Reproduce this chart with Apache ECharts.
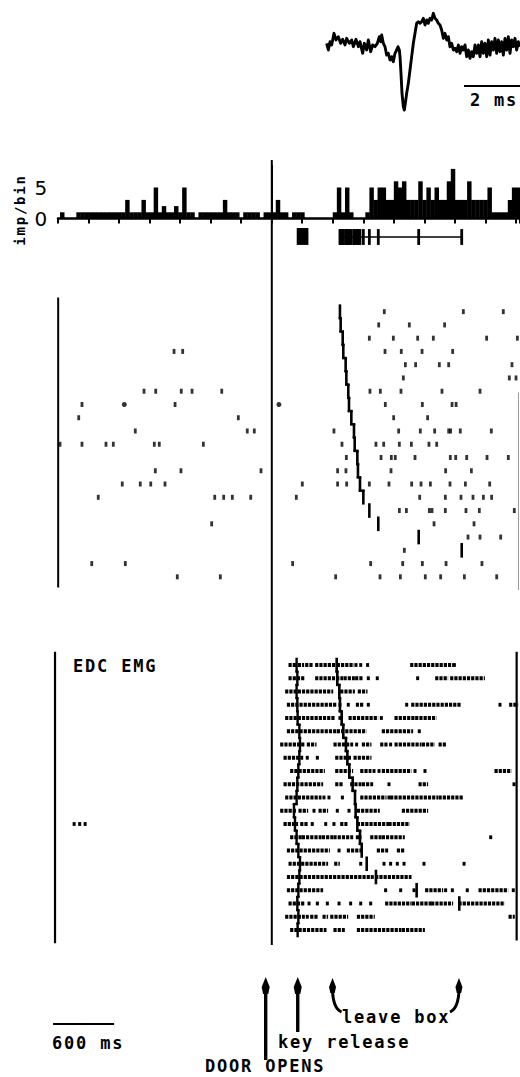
<!DOCTYPE html>
<html><head><meta charset="utf-8">
<script src="https://cdn.jsdelivr.net/npm/echarts@6/dist/echarts.min.js"></script>
<style>
html,body{margin:0;padding:0;background:#fff;}
#chart{width:520px;height:1077px;}
#chart text{letter-spacing:1.8px;}
</style></head>
<body><div id="chart"></div>
<script>
// ---------------- DATA ----------------
// averaged spike waveform (time in ms, amplitude in arbitrary units)
const waveTimeMs = [0.20,0.25,0.30,0.35,0.42,0.48,0.55,0.62,0.68,0.75,0.80,0.88,0.95,1.00,1.08,1.15,1.20,1.28,1.33,1.40,1.45,1.52,1.58,1.65,1.72,1.78,1.82,1.85,1.90,1.95,2.00,2.05,2.10,2.15,2.20,2.25,2.30,2.34,2.38,2.40,2.43,2.46,2.50,2.53,2.56,2.60,2.65,2.70,2.75,2.80,2.85,2.90,2.95,3.00,3.05,3.10,3.15,3.20,3.25,3.30,3.35,3.40,3.45,3.50,3.55,3.60,3.65,3.70,3.75,3.80,3.85,3.90,3.95,4.00,4.05,4.10,4.15,4.20,4.25,4.30,4.35,4.40,4.45,4.50,4.55,4.60,4.65,4.70,4.75,4.80,4.85,4.90,4.95,5.00,5.05,5.10,5.15,5.20,5.25,5.30,5.35,5.40,5.45,5.50,5.55,5.60,5.65,5.70,5.75,5.80,5.85,5.90,5.95,6.00];
const waveAmp = [0.10,-0.10,0.15,0.05,0.40,0.20,0.30,0.10,0.22,0.05,0.25,0.10,0.20,0.00,0.22,0.00,0.15,-0.20,0.10,-0.10,0.20,-0.15,0.05,0.00,0.10,0.30,0.15,0.35,0.10,0.00,-0.25,-0.20,-0.40,-0.30,-0.45,-0.20,-0.10,0.00,-0.10,-0.30,-0.80,-1.40,-1.80,-1.90,-1.70,-1.40,-1.10,-0.70,-0.30,0.10,0.40,0.70,0.75,0.70,0.75,0.85,0.65,0.80,0.70,0.85,0.80,1.00,0.85,0.80,0.70,0.65,0.50,0.25,0.40,0.20,0.30,0.00,0.10,-0.10,-0.05,-0.15,0.05,-0.20,0.00,-0.10,0.05,-0.30,-0.10,-0.35,-0.15,-0.30,0.05,-0.20,0.05,-0.30,0.15,-0.20,0.10,-0.30,0.20,-0.25,0.15,-0.10,0.25,-0.20,0.20,-0.15,0.15,-0.25,0.25,-0.10,0.30,-0.20,0.20,0.00,0.25,-0.10,0.15,0.00];
const waveScaleBarMs = [4.32, 6.32];

// peri-event histogram (40 ms bins)
const histBinStartMs = -2080;
const histBinWidthMs = 40;
const histCounts = [
 1,0,0,0,1,1,1,1,1,1,
 1,1,1,1,1,1,3,1,1,1,
 3,1,1,5,1,2,1,1,2,1,
 5,1,1,0,1,1,1,1,1,1,
 3,1,1,1,0,1,1,1,1,0,
 1,1,1,3,1,1,0,1,1,1,
 0,0,0,0,0,0,0,1,5,1,
 5,1,0,0,0,1,5,3,5,5,
 3,3,6,5,6,3,3,3,6,3,
 5,3,5,3,3,6,8,3,3,3,
 6,3,3,3,3,5,1,1,1,1,
 3,5,5];
const histYTicks = [0, 5];
const histXTickMs = 300;

// behavioural event summary under the histogram
const keyReleaseRangeMs = [245, 360];

// unit raster: spike times (ms) per trial row (row 1 = top)
const unitSpikeRows = [
 [1106,1883,2276],
 [1051,1352,1699],
 [959,1195,1434,1588,2112,2414],
 [-961,-876,1113,1273,1477,1778],
 [1313,1414,1647,1739,2361],
 [1293,2335,2401],
 [-1256,-1141,-890,-784,-492,965,1067,1270,1673,2047],
 [-1866,-951,1116,1480,1772,1812],
 [-1898,-329,1198,1532],
 [-1342,-241,-172,611,1247,1460,1601,1739,1758,1853,2158],
 [-2082,-1866,-1630,-1558,-1155,-1106,-673,690,1024,1100,1254,1372,1545,1621],
 [733,1074,1175,1214,1408,1755,1808,1916,2116,2325],
 [-1145,-893,-106,647,729,1172,1709,1962],
 [-1470,-1293,-1190,-1050,300,647,736,959,1152,1375,1467,1559,1752,1903,2142],
 [-1706,-561,-473,-388,-207,241,1454,1706,1860,1978,2080,2161],
 [1254,1323,1549,1575,1706,1909,2040,2384],
 [-591,1595,1988],
 [1929,2047,2250],
 [1303],
 [-1770,-1440,205,972,1287,1480,1713,2066],
 [-929,-506,628,1064,1264,1509,1660,1893,2211]
];
const unitBigDotMs = [-1450, 70];
const unitBigDotRow = [8, 8];
const unitLeaveMs = [670,677,697,703,726,733,752,759,782,808,815,841,847,867,900,959,1047,1444,1867];
const unitWindowMs = [-2100, 2425];

// EDC EMG raster: activity runs [start,end] or single dots (ms) per row
const emgRows = [
 [[179,228],[271,303],[343,392],[441,621],[654,795],828,874,942,[1375,1768],1795],
 [[179,310],[441,687],[720,802],[834,884],949,1037,1434,[1621,1719],[1768,2080]],
 [[146,589],[687,802],[860,926]],
 [[163,621],670,[752,769],[841,884],949,1326,[1385,1850],2243,[2348,2407]],
 [[146,605],670,[769,1031],1077,[1221,1391],[1424,1604]],
 [[163,638],[654,916],[1096,1375],1450],
 [[97,310],[359,425],[621,785],834,[900,965],[1080,1129],1168,[1221,1457],[1490,1588],[1654,1703]],
 [[130,294],349,448,[638,769],[818,965]],
 [[195,507],[638,785],[884,965],1005,1054,[1096,1359],1408,1506,[2204,2342]],
 [[130,490],[638,687],[785,867],[900,982],1152,[1457,1522],2381],
 [[146,474],513,562,694,[884,1113],1152,[1178,1621],[1654,1867]],
 [[97,228],[277,343],415,[474,539],644,759,[851,1047],[1293,1522]],
 [-1943,-1889,-1835,[130,244],[294,343],398,530,611,[687,729],[851,1146],[1162,1342]],
 [[195,294],[310,474],[507,589],[621,785],[841,867],[982,1064],[1096,1293],2152],
 [[163,556],661,[752,867],[1047,1129],[1244,1293]],
 [[179,539],[628,654],874,1103,1168,1234,1300,1496,1890],
 [[163,965],988,[1031,1359]],
 [[163,490],1119,1267,1398,[1522,1670],1709,1775,1922,[2047,2309],[2374,2391]],
 [[179,310],366,448,546,661,775,874,972,[1129,1359],[1391,1555],[1581,1768],[1850,2276]],
 [[146,310],349,[392,441],[513,539],[589,736],[851,998],[2342,2374]],
 [[195,523],[621,703],[851,1260],[1293,1490]]
];
const emgKeyReleaseMs = [244,251,244,251,254,271,277,271,261,251,244,218,228,244,261,277,271,261,251,261,254];
const emgLeaveMs = [638,644,664,670,687,703,729,743,762,795,818,824,841,867,884,933,1024,1424,1843];
const emgWindowMs = [-2131, 2407];

// events / annotations
const doorOpenMs = 0;
const doorArrowMs = -60;
const keyArrowMs = 255;
const leaveArrowMs = [597, 1840];
const scaleBar600Ms = [-2150, -1550];

// ---------------- CHART ----------------
const BLACK = '#000';
const chart = echarts.init(document.getElementById('chart'), null, {renderer: 'svg'});
const XMIN = -2200, XMAX = 2440;

function hx(gi, min, max) { return {type:'value', gridIndex:gi, min:min, max:max, show:false, splitLine:{show:false}}; }
function hy(gi, min, max, inv) { return {type:'value', gridIndex:gi, min:min, max:max, inverse:!!inv, show:false, splitLine:{show:false}}; }
function g(left, top, width, height) { return {left:left, top:top, width:width, height:height, containLabel:false, outerBoundsMode:'none'}; }

function stairSeries(gi, times, lw, joinPx) {
  return {
    type:'custom', xAxisIndex:gi, yAxisIndex:gi, silent:true, clip:false, animation:false,
    data: times.map(function(t,i){ return [t, i+1]; }),
    encode:{x:0, y:1},
    renderItem: function(params, api) {
      const i = params.dataIndex, t = api.value(0), r = api.value(1);
      const p0 = api.coord([t, r-0.55]), p1 = api.coord([t, r+0.55]);
      const kids = [{type:'line', shape:{x1:p0[0],y1:p0[1],x2:p1[0],y2:p1[1]}, style:{stroke:BLACK, lineWidth:lw}}];
      if (i+1 < times.length) {
        const a = api.coord([t, r+0.5]), b = api.coord([times[i+1], r+0.5]);
        if (Math.abs(b[0]-a[0]) < joinPx) kids.push({type:'line', shape:{x1:a[0],y1:a[1],x2:b[0],y2:b[1]}, style:{stroke:BLACK, lineWidth:lw, lineCap:'square'}});
      }
      return {type:'group', children:kids};
    }
  };
}
function vline(gi, t, r0, r1, w, color) {
  return {type:'line', xAxisIndex:gi, yAxisIndex:gi, silent:true, animation:false, symbol:'none',
    data:[[t, r0],[t, r1]], lineStyle:{color:color||BLACK, width:w}};
}

const waveData = waveTimeMs.map(function(t,i){ return [t, waveAmp[i]]; });
const histData = histCounts.map(function(c,i){ return [histBinStartMs + i*histBinWidthMs, c]; });
const unitSpikes = [];
unitSpikeRows.forEach(function(row, i){ row.forEach(function(t){ unitSpikes.push([t, i+1]); }); });
const unitBig = unitBigDotMs.map(function(t,i){ return [t, unitBigDotRow[i]]; });
const emgSegs = [];
emgRows.forEach(function(row, i){ row.forEach(function(s){
  if (Array.isArray(s)) emgSegs.push([s[0], s[1], i+1]); else emgSegs.push([s, s, i+1]);
}); });

const option = {
  animation:false,
  backgroundColor:'#fff',
  grid:[
    g(320, 0, 200, 115),          // 0 waveform
    g(58, 165.8, 462, 52.7),      // 1 histogram
    g(48, 228, 472, 18),          // 2 event strip
    g(48, 298.4, 472, 291.7),     // 3 unit raster
    g(48, 651.75, 472, 291.5),    // 4 EMG raster
    g(48, 160, 472, 785),         // 5 door line overlay
    g(48, 950, 472, 127)          // 6 annotations
  ],
  xAxis:[
    hx(0, 0, 6),
    {type:'value', gridIndex:1, min:-2100, max:XMAX, interval:histXTickMs,
      axisLine:{show:true, onZero:false, lineStyle:{color:BLACK, width:2.5}},
      axisTick:{show:true, length:5, lineStyle:{color:BLACK, width:2}},
      axisLabel:{show:false}, splitLine:{show:false}},
    hx(2, XMIN, XMAX), hx(3, XMIN, XMAX), hx(4, XMIN, XMAX), hx(5, XMIN, XMAX), hx(6, XMIN, XMAX)
  ],
  yAxis:[
    hy(0, -2.05, 1.4),
    {type:'value', gridIndex:1, min:0, max:8.5, interval:5,
      axisLine:{show:true, lineStyle:{color:BLACK, width:2}},
      axisTick:{show:false},
      axisLabel:{show:true, customValues:histYTicks, margin:9, color:BLACK,
        fontFamily:'DejaVu Sans', fontSize:20, formatter:function(v){ return histYTicks.indexOf(v) >= 0 ? String(v) : ''; }},
      splitLine:{show:false}},
    hy(2, 0, 1), hy(3, 0, 22, true), hy(4, 0, 22, true), hy(5, 0, 1, true), hy(6, 950, 1077, true)
  ],
  series:[
    // waveform
    {type:'line', xAxisIndex:0, yAxisIndex:0, data:waveData, symbol:'none', silent:true,
      lineStyle:{color:BLACK, width:2.9, join:'round'}},
    {type:'line', xAxisIndex:0, yAxisIndex:0, data:[[waveScaleBarMs[0],-1.18],[waveScaleBarMs[1],-1.18]],
      symbol:'none', silent:true, clip:false, lineStyle:{color:BLACK, width:2}},
    // histogram
    {type:'custom', xAxisIndex:1, yAxisIndex:1, data:histData, encode:{x:0,y:1}, silent:true,
      renderItem:function(params, api){
        const t = api.value(0), c = api.value(1);
        if (!c) return null;
        const a = api.coord([t, c]), b = api.coord([t + histBinWidthMs, 0]);
        return {type:'rect', shape:{x:a[0], y:a[1], width:b[0]-a[0]+0.4, height:b[1]-a[1]}, style:{fill:BLACK}};
      }},
    // event strip: key release range box
    {type:'custom', xAxisIndex:2, yAxisIndex:2, data:[[keyReleaseRangeMs[0], keyReleaseRangeMs[1]]], encode:{x:[0,1]}, silent:true,
      renderItem:function(params, api){
        const a = api.coord([api.value(0), 1]), b = api.coord([api.value(1), 0.06]);
        return {type:'rect', shape:{x:a[0], y:a[1], width:b[0]-a[0], height:b[1]-a[1]}, style:{fill:BLACK}};
      }},
    // event strip: leave-box span + ticks
    {type:'line', xAxisIndex:2, yAxisIndex:2, symbol:'none', silent:true,
      data:[[Math.min.apply(null, unitLeaveMs), 0.5],[Math.max.apply(null, unitLeaveMs), 0.5]],
      lineStyle:{color:BLACK, width:1.6}},
    {type:'custom', xAxisIndex:2, yAxisIndex:2, data:unitLeaveMs.map(function(t){ return [t, 0.5]; }), encode:{x:0,y:1}, silent:true,
      renderItem:function(params, api){
        const a = api.coord([api.value(0), 0.94]), b = api.coord([api.value(0), 0.06]);
        return {type:'rect', shape:{x:a[0]-1.4, y:a[1], width:2.8, height:b[1]-a[1]}, style:{fill:BLACK}};
      }},
    // unit raster
    {type:'scatter', xAxisIndex:3, yAxisIndex:3, data:unitSpikes, symbol:'rect', symbolSize:[2.8, 5], silent:true,
      itemStyle:{color:BLACK}},
    {type:'scatter', xAxisIndex:3, yAxisIndex:3, data:unitBig, symbol:'circle', symbolSize:5, silent:true,
      itemStyle:{color:BLACK}},
    stairSeries(3, unitLeaveMs, 2.6, 4.5),
    vline(3, unitWindowMs[0], -0.2, 21.8, 2),
    vline(3, unitWindowMs[1], 7.1, 22, 1, '#9a9a9a'),
    // EMG raster
    {type:'custom', xAxisIndex:4, yAxisIndex:4, data:emgSegs, encode:{x:[0,1], y:2}, silent:true, clip:false,
      renderItem:function(params, api){
        const a = api.coord([api.value(0), api.value(2)]), b = api.coord([api.value(1), api.value(2)]);
        if (b[0]-a[0] < 2) return {type:'rect', shape:{x:a[0]-1.5, y:a[1]-1.9, width:3, height:3.8}, style:{fill:BLACK}};
        return {type:'line', shape:{x1:a[0]-1.5, y1:a[1], x2:b[0]+1.5, y2:b[1]},
          style:{stroke:BLACK, lineWidth:3.8, lineDash:[3.2,1]}};
      }},
    stairSeries(4, emgKeyReleaseMs, 2.4, 9),
    stairSeries(4, emgLeaveMs, 2.6, 4.5),
    vline(4, emgWindowMs[0], 0, 22, 2.2),
    vline(4, emgWindowMs[1], 0, 21.8, 2.2),
    // door opening line
    vline(5, doorOpenMs, 0, 1, 2),
    // straight arrows
    {type:'custom', xAxisIndex:6, yAxisIndex:6, data:[[doorArrowMs, 977],[keyArrowMs, 977]], encode:{x:0,y:1}, silent:true,
      renderItem:function(params, api){
        const tails = [1060, 1032];
        const tip = api.coord([api.value(0), 977]), tail = api.coord([api.value(0), tails[params.dataIndex]]);
        const x = tip[0], y = tip[1];
        return {type:'group', children:[
          {type:'rect', shape:{x:x-1.7, y:y+12, width:3.4, height:tail[1]-y-12}, style:{fill:BLACK}},
          {type:'polygon', shape:{points:[[x,y],[x+4,y+10],[x+2.6,y+17],[x-2.6,y+17],[x-4,y+10]]}, style:{fill:BLACK}}
        ]};
      }},
    // curved leave-box arrows
    {type:'custom', xAxisIndex:6, yAxisIndex:6, data:leaveArrowMs.map(function(t){ return [t, 978]; }), encode:{x:0,y:1}, silent:true,
      renderItem:function(params, api){
        const tip = api.coord([api.value(0), 978]);
        const x = tip[0], y = tip[1];
        const dir = params.dataIndex === 0 ? 1 : -1;
        return {type:'group', children:[
          {type:'bezierCurve', shape:{x1:x, y1:y+10, cpx1:x, cpy1:y+30, x2:x+9*dir, y2:y+34}, style:{stroke:BLACK, lineWidth:3, fill:null}},
          {type:'polygon', shape:{points:[[x,y],[x+3.5,y+9],[x+2.2,y+15],[x-2.2,y+15],[x-3.5,y+9]]}, style:{fill:BLACK}}
        ]};
      }},
    // 600 ms scale bar
    {type:'line', xAxisIndex:6, yAxisIndex:6, symbol:'none', silent:true,
      data:[[scaleBar600Ms[0], 1024],[scaleBar600Ms[1], 1024]], lineStyle:{color:BLACK, width:2}}
  ],
  graphic:[
    {type:'text', x:20, y:210, rotation:Math.PI/2, silent:true,
      style:{text:'imp/bin', font:'bold 14px "DejaVu Sans Mono"', fill:BLACK, align:'center', verticalAlign:'middle'}},
    {type:'text', x:470, y:100, silent:true, style:{text:'2 ms', font:'bold 17px "DejaVu Sans Mono"', fill:BLACK, align:'left', verticalAlign:'middle'}},
    {type:'text', x:73, y:666, silent:true, style:{text:'EDC EMG', font:'bold 17px "DejaVu Sans Mono"', fill:BLACK, align:'left', verticalAlign:'middle'}},
    {type:'text', x:52, y:1043, silent:true, style:{text:'600 ms', font:'bold 17px "DejaVu Sans Mono"', fill:BLACK, align:'left', verticalAlign:'middle'}},
    {type:'text', x:342, y:1017, silent:true, style:{text:'leave box', font:'bold 17px "DejaVu Sans Mono"', fill:BLACK, align:'left', verticalAlign:'middle'}},
    {type:'text', x:278, y:1042, silent:true, style:{text:'key release', font:'bold 17px "DejaVu Sans Mono"', fill:BLACK, align:'left', verticalAlign:'middle'}},
    {type:'text', x:205, y:1066, silent:true, style:{text:'DOOR OPENS', font:'bold 17px "DejaVu Sans Mono"', fill:BLACK, align:'left', verticalAlign:'middle'}}
  ]
};
chart.setOption(option);
</script></body></html>
